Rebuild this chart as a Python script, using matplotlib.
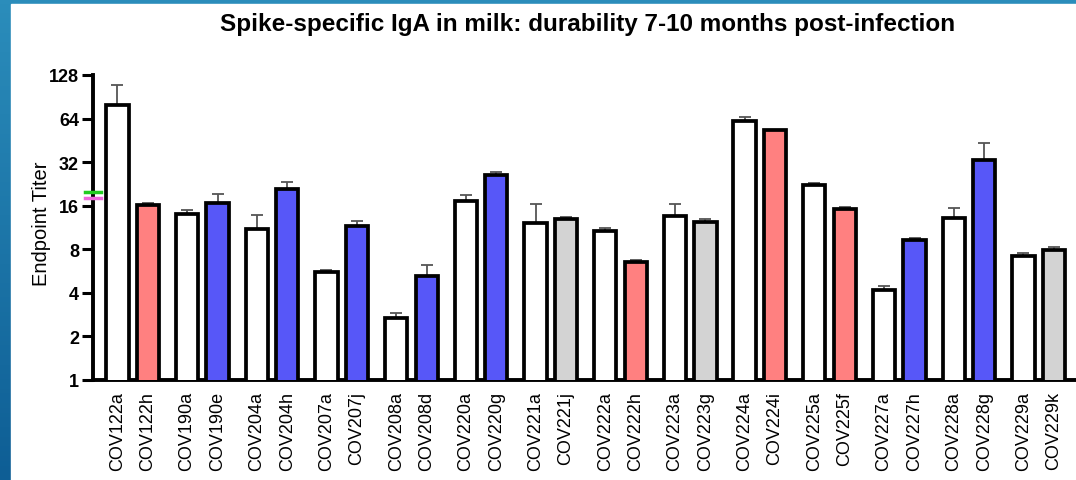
import numpy as np
import matplotlib
matplotlib.use("Agg")
from matplotlib import pyplot as plt
from matplotlib.patches import Rectangle
from matplotlib.colors import LinearSegmentedColormap

plt.rcParams['font.family'] = ['Liberation Sans', 'DejaVu Sans']

# samples, in pairs
labels = ['COV122a', 'COV122h', 'COV190a', 'COV190e', 'COV204a', 'COV204h',
          'COV207a', 'COV207j', 'COV208a', 'COV208d', 'COV220a', 'COV220g',
          'COV221a', 'COV221j', 'COV222a', 'COV222h', 'COV223a', 'COV223g',
          'COV224a', 'COV224i', 'COV225a', 'COV225f', 'COV227a', 'COV227h',
          'COV228a', 'COV228g', 'COV229a', 'COV229k']
# mean endpoint titer
titer = [80, 16.3, 14.1, 16.7, 11.1, 20.8,
         5.55, 11.5, 2.67, 5.25, 17.2, 26.2,
         12.2, 13.0, 10.7, 6.5, 13.6, 12.3,
         61.5, 53.6, 22.4, 15.2, 4.18, 9.3,
         13.2, 32.9, 7.2, 7.85]
# upper end of error bar
upper = [109, 16.8, 14.9, 19.4, 13.7, 23.4,
         5.78, 12.5, 2.89, 6.2, 19.1, 27.2,
         16.4, 13.4, 11.3, 6.7, 16.5, 12.9,
         65.6, 53.6, 22.9, 15.8, 4.46, 9.6,
         15.4, 43.6, 7.5, 8.3]
# group of second sample in each pair
group = ['pink', 'blue', 'blue', 'blue', 'blue', 'blue', 'gray',
         'pink', 'gray', 'pink', 'pink', 'blue', 'blue', 'gray']
# reference marks on the y axis
ref_green = 19.8
ref_magenta = 18.0

palette = {'pink': '#FF8080', 'blue': '#5757F8', 'gray': '#D3D3D3'}
colors = []
for g in group:
    colors += ['white', palette[g]]

npairs = len(labels) // 2
x = []
for i in range(npairs):
    x += [i * 2.285, i * 2.285 + 1]
x = np.array(x)
titer = np.array(titer)
err = np.array(upper) - titer

fig = plt.figure(figsize=(10.76, 4.81), dpi=100)

# blue frame background with white panel
bg = fig.add_axes([0, 0, 1, 1], zorder=-10)
cmap = LinearSegmentedColormap.from_list('frame', ['#2B8DBB', '#0E5E95'])
bg.imshow(np.linspace(0, 1, 100).reshape(-1, 1), aspect='auto', cmap=cmap,
          extent=[0, 1, 0, 1])
bg.add_patch(Rectangle((11 / 1076, 0), 1, 1 - 5 / 481, color='white'))
bg.set_xlim(0, 1)
bg.set_ylim(0, 1)
bg.axis('off')

ax = fig.add_axes([93 / 1076, 100 / 481, 1 - 93 / 1076, 305 / 481])
ax.set_facecolor('none')
ax.bar(x, titer, width=0.73, color=colors, edgecolor='black', linewidth=2.7,
       zorder=3)
ax.errorbar(x, titer, yerr=[np.zeros_like(err), err], fmt='none',
            ecolor='#555555', elinewidth=1.3, capsize=4.5, capthick=1.3, zorder=2)

ax.set_yscale('log', base=2)
ax.set_ylim(1, 128)
ax.set_xlim(-0.8, 31.43)
yt = [1, 2, 4, 8, 16, 32, 64, 128]
ax.set_yticks(yt)
ax.set_yticklabels([str(v) for v in yt], fontsize=13, fontweight='bold')
ax.minorticks_off()
ax.set_xticks(x)
ax.set_xticklabels(labels, rotation=90, fontsize=13)
ax.tick_params(axis='x', length=0, pad=8)
ax.tick_params(axis='y', length=8, width=2.2, pad=2)
for s in ['top', 'right']:
    ax.spines[s].set_visible(False)
for s in ['left', 'bottom']:
    ax.spines[s].set_linewidth(2.8)

trans = ax.get_yaxis_transform()
ax.plot([-0.008, 0.008], [ref_green, ref_green], color='#22CC22', lw=2.5,
        transform=trans, clip_on=False, zorder=5)
ax.plot([-0.008, 0.008], [ref_magenta, ref_magenta], color='#EE66DD', lw=2.5,
        transform=trans, clip_on=False, zorder=5)

ax.set_ylabel('Endpoint Titer', fontsize=14.5)
ax.yaxis.set_label_coords(-0.043, 0.515)
fig.text(588 / 1076, 1 - 25 / 481,
         'Spike-specific IgA in milk: durability 7-10 months post-infection',
         ha='center', va='center', fontsize=17.5, fontweight='bold')

fig.savefig('out.png', dpi=100)
